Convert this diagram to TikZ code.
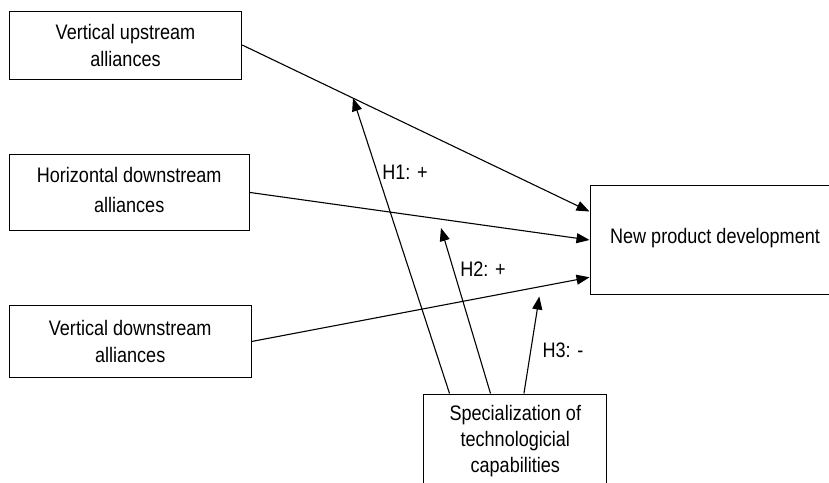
\documentclass[tikz,border=0pt]{standalone}
\usepackage{fontspec}
\setmainfont{Liberation Sans}[FakeStretch=0.86]
\usetikzlibrary{arrows.meta,calc}
\begin{document}
\begin{tikzpicture}[x=1pt,y=-1pt,
  box/.style={draw,line width=1pt,inner sep=0pt,align=center,font=\fontsize{21}{27}\selectfont},
  link/.style={line width=1.1pt,-{Triangle[length=13pt,width=10pt]}},
  hlabel/.style={font=\fontsize{21}{24}\selectfont,inner sep=0pt}]
\useasboundingbox (0,0) rectangle (829,482);
\node[box,minimum width=232.4pt,minimum height=68pt] (vu) at (125.5,45) {Vertical upstream\\alliances};
\node[box,minimum width=239.7pt,minimum height=76.7pt] (hd) at (129.2,192.4) {\raisebox{4pt}{\begin{tabular}{@{}c@{}}Horizontal downstream\\[3pt]alliances\end{tabular}}};
\node[box,minimum width=241.7pt,minimum height=71.6pt] (vd) at (130.2,341.5) {Vertical downstream\\alliances};
\node[box,minimum width=250pt,minimum height=108.6pt] (npd) at (715,240) {\raisebox{8pt}{New product development}};
\node[box,font=\fontsize{21}{26}\selectfont,minimum width=182.7pt,minimum height=94pt] (spec) at (515.3,441) {Specialization of\\technologicial\\capabilities};
\coordinate (n1) at ($(npd.north west)!0.24!(npd.south west)$);
\coordinate (n2) at ($(npd.north west)!0.5!(npd.south west)$);
\coordinate (n3) at ($(npd.north west)!0.84!(npd.south west)$);
\draw[link] (vu.east) -- (n1) coordinate[pos=0.319] (h1tip);
\draw[link] (hd.east) -- (n2);
\draw[link] (vd.east) -- (n3);
\coordinate (s1) at ($(spec.north west)!0.142!(spec.north east)$);
\coordinate (s2) at ($(spec.north west)!0.365!(spec.north east)$);
\coordinate (s3) at ($(spec.north west)!0.547!(spec.north east)$);
\coordinate (h2tip) at (441,228);
\coordinate (h3tip) at (539.3,296.5);
\draw[link] (s1) -- (h1tip);
\draw[link] (s2) -- (h2tip);
\draw[link] (s3) -- (h3tip);
\node[hlabel] (l1) at (405,172) {H1: +};
\node[hlabel] (l2) at (483,269) {H2: +};
\node[hlabel] (l3) at (563,350) {H3: -};
\end{tikzpicture}
\end{document}
